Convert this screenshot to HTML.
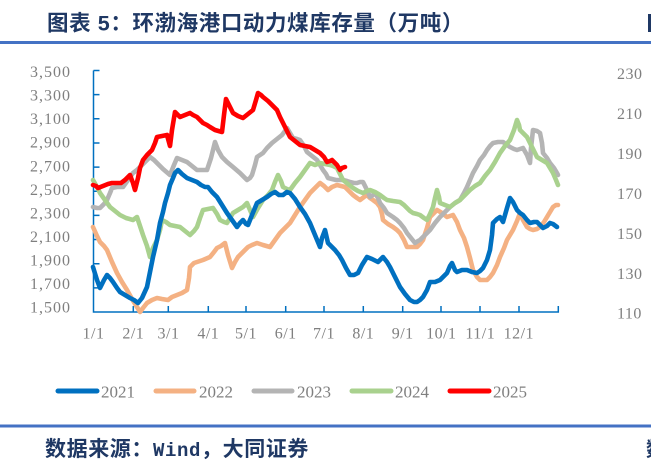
<!DOCTYPE html>
<html><head><meta charset="utf-8"><style>
html,body{margin:0;padding:0;background:#fff;}
svg{display:block;}
.t{font-family:"Liberation Serif","Noto Serif CJK SC",serif;fill:#7f7f7f;}
.h{font-family:"Liberation Sans","Noto Sans CJK SC",sans-serif;font-weight:700;fill:#1f3864;}
.m{font-family:"Liberation Mono",monospace;font-weight:700;}
</style></head><body>
<svg width="651" height="469" viewBox="0 0 651 469" xmlns="http://www.w3.org/2000/svg">
<rect width="651" height="469" fill="#fff"/>
<text class="h" x="47" y="30.5" font-size="21.5" letter-spacing="0.6">图表 5：环渤海港口动力煤库存量（万吨）</text>
<rect x="648" y="14" width="3" height="18" fill="#1f3864"/>
<rect x="0" y="41" width="651" height="3" fill="#4472c4"/>

<!-- left labels -->
<g class="t" font-size="16" text-anchor="end" letter-spacing="1">
<text x="71" y="77">3,500</text>
<text x="71" y="100.6">3,300</text>
<text x="71" y="124.1">3,100</text>
<text x="71" y="147.7">2,900</text>
<text x="71" y="171.3">2,700</text>
<text x="71" y="194.9">2,500</text>
<text x="71" y="218.4">2,300</text>
<text x="71" y="242">2,100</text>
<text x="71" y="265.6">1,900</text>
<text x="71" y="289.1">1,700</text>
<text x="71" y="312.7">1,500</text>
</g>
<!-- right labels -->
<g class="t" font-size="16" letter-spacing="0.5">
<text x="617" y="79">230</text>
<text x="617" y="119">210</text>
<text x="617" y="159">190</text>
<text x="617" y="199">170</text>
<text x="617" y="239">150</text>
<text x="617" y="279">130</text>
<text x="617" y="318.7">110</text>
</g>
<!-- x labels -->
<g class="t" font-size="16" text-anchor="middle" letter-spacing="0.5">
<text x="93.5" y="338.5">1/1</text>
<text x="133.3" y="338.5">2/1</text>
<text x="168.5" y="338.5">3/1</text>
<text x="208.3" y="338.5">4/1</text>
<text x="246" y="338.5">5/1</text>
<text x="285.7" y="338.5">6/1</text>
<text x="324" y="338.5">7/1</text>
<text x="363.3" y="338.5">8/1</text>
<text x="402.7" y="338.5">9/1</text>
<text x="441.3" y="338.5">10/1</text>
<text x="480.3" y="338.5">11/1</text>
<text x="518.8" y="338.5">12/1</text>
</g>

<!-- axes -->
<g stroke="#0070c0" stroke-width="1.5" fill="none">
<path d="M93.5,70.5 V312 H558.3 V306"/>
<path d="M93.5,70.5h6 M93.5,94.65h6 M93.5,118.8h6 M93.5,142.95h6 M93.5,167.1h6 M93.5,191.25h6 M93.5,215.4h6 M93.5,239.55h6 M93.5,263.7h6 M93.5,287.85h6"/>
<path d="M133.3,312v-6 M168.3,312v-6 M208.3,312v-6 M246,312v-6 M285.7,312v-6 M324,312v-6 M363.3,312v-6 M402.7,312v-6 M441,312v-6 M480,312v-6 M519,312v-6"/>
</g>

<g fill="none" stroke-width="4.6" stroke-linejoin="round" stroke-linecap="round">
<polyline stroke="#f4b183" points="93,227 97,236 100,242 104,246 107,250 112,262 117,273 122,282 127,290 132,299 137,307 140,312 143,308 147,303 152,300 157,298 162,299 168,300 172,297 177,295 182,293 187,290 189,278 190,267 194,263 197,262 203,260 210,257 214,252 217,248 221,246 225,243 228,255 232,268 235,262 238,257 243,252 248,247 252,245 257,243 263,245 270,247 275,240 280,233 285,228 290,223 295,215 300,207 305,200 310,193 315,188 320,183 324,186 328,190 332,187 337,185 341,186 345,187 349,191 353,195 357,198 360,200 364,197 367,195 370,198 373,200 377,203 380,207 382,214 383,220 388,224 393,227 397,230 400,233 404,240 407,247 412,247 417,247 420,244 423,240 427,228 430,217 434,213 437,210 442,213 447,217 450,216 453,215 457,222 460,230 464,238 467,247 470,258 473,270 477,277 480,280 484,280 487,280 490,277 493,273 497,265 500,257 504,248 507,240 510,235 513,230 517,221 520,213 523,220 527,227 530,229 533,230 537,229 540,227 544,222 547,217 550,212 553,207 556,205 558,205"/>
<polyline stroke="#b4b4b4" points="93,207 97,208 100,208 104,204 107,200 110,193 112,188 117,187 123,187 128,180 133,173 137,170 140,167 145,162 150,157 154,160 157,163 163,169 170,175 174,165 177,158 182,160 187,162 192,166 197,170 202,170 207,170 211,158 215,142 218,150 222,157 227,162 233,167 240,173 247,180 250,178 252,175 255,165 257,157 260,155 263,153 267,148 272,143 277,139 282,135 285,131 287,128 290,133 293,138 297,139 300,140 304,146 307,152 312,156 317,160 320,165 323,170 326,174 328,178 332,179 336,180 340,180 343,180 347,181 350,182 354,183 357,183 360,182 363,182 367,190 370,197 373,195 375,193 378,198 380,203 384,208 387,213 390,215 393,217 397,220 400,223 404,228 407,233 411,238 415,243 418,241 420,240 425,235 430,230 435,223 440,217 445,212 450,207 455,203 460,200 464,193 467,187 470,180 473,173 477,166 480,160 484,155 487,150 490,146 493,143 498,142 503,142 507,145 510,147 514,149 517,150 520,149 523,148 527,155 530,163 531,148 533,130 537,131 540,133 542,143 543,153 547,158 550,163 554,168 557,173 558,175"/>
<polyline stroke="#a9d18e" points="93,180 97,187 100,193 105,200 110,207 115,211 120,215 126,218 133,220 137,217 140,226 143,235 147,246 150,257 153,248 157,240 160,230 162,220 166,222 170,225 175,226 180,227 185,231 190,235 194,231 197,227 200,218 203,210 208,209 213,208 217,214 220,220 224,222 227,223 230,218 233,213 238,210 243,207 247,203 250,210 253,217 258,208 263,200 268,195 272,190 275,182 278,175 281,181 283,187 287,189 290,190 295,183 300,177 305,170 310,163 315,165 320,163 325,164 330,165 333,166 337,168 340,174 343,180 348,184 353,188 358,191 363,193 367,191 370,190 375,192 380,195 384,198 387,200 393,201 400,202 404,205 407,208 410,211 413,213 417,214 420,215 424,218 427,220 430,214 433,207 435,198 437,190 439,197 440,203 445,205 450,207 455,203 460,200 465,195 470,190 475,186 480,183 485,176 490,170 495,162 500,153 505,146 510,140 514,130 517,120 519,125 520,130 524,134 527,137 532,147 537,157 542,160 547,163 550,168 553,173 556,180 558,185"/>
<polyline stroke="#0070c0" points="93,267 97,280 100,288 104,280 107,275 110,278 113,282 117,288 120,292 125,295 130,298 134,300 138,303 142,298 147,287 150,272 153,257 157,240 160,223 163,212 165,203 168,193 170,185 173,178 175,173 178,170 182,174 187,178 192,180 197,182 201,185 205,187 208,187 212,192 217,197 222,205 227,213 232,220 237,227 240,223 243,220 246,224 248,225 252,215 257,203 262,200 267,197 271,194 275,192 279,195 283,195 287,192 290,193 295,199 300,207 305,214 310,223 315,235 320,247 322,238 325,230 328,243 331,246 335,250 339,255 342,260 346,268 350,275 354,275 358,273 362,265 367,257 372,259 378,262 383,257 387,262 390,267 395,277 400,287 405,294 410,300 414,302 417,302 420,300 423,297 427,290 430,282 435,282 440,280 444,276 447,273 450,266 452,263 455,270 457,272 462,270 467,270 472,272 477,273 480,271 483,268 487,260 490,250 492,235 493,223 497,219 500,217 503,222 507,208 510,198 513,202 517,210 520,213 523,215 527,220 530,223 534,222 537,222 540,225 543,228 547,226 550,223 553,224 557,227"/>
<polyline stroke="#ff0000" points="93,185 96,186 98,188 103,186 108,184 112,183 117,183 121,183 125,180 128,177 130,175 133,183 135,190 138,178 140,168 143,160 147,155 150,152 152,150 155,143 157,137 162,136 167,135 170,146 172,130 175,112 178,115 180,117 185,115 190,113 193,115 197,117 200,120 203,123 207,125 210,127 215,130 222,132 224,115 226,99 229,105 233,113 238,116 243,118 248,114 253,110 256,100 258,93 261,95 263,97 268,101 272,105 275,108 277,110 280,117 283,123 287,131 290,137 295,141 300,145 305,146 310,147 315,150 320,153 324,157 327,162 330,161 332,160 335,163 337,165 340,170 342,168 345,167"/>
</g>

<!-- legend -->
<g stroke-width="5" stroke-linecap="round">
<line x1="58" y1="391" x2="97" y2="391" stroke="#0070c0"/>
<line x1="156" y1="391" x2="194" y2="391" stroke="#f4b183"/>
<line x1="254" y1="391" x2="292" y2="391" stroke="#b4b4b4"/>
<line x1="352" y1="391" x2="391" y2="391" stroke="#a9d18e"/>
<line x1="450" y1="391" x2="489" y2="391" stroke="#ff0000"/>
</g>
<g class="t" font-size="17">
<text x="101" y="397.5">2021</text>
<text x="199" y="397.5">2022</text>
<text x="297" y="397.5">2023</text>
<text x="395" y="397.5">2024</text>
<text x="493" y="397.5">2025</text>
</g>

<rect x="0" y="424.5" width="651" height="3" fill="#4472c4"/>
<text class="h" x="45" y="456" font-size="21" letter-spacing="0.6">数据来源：<tspan class="m" font-size="19">Wind</tspan>，大同证券</text>
<text class="h" x="646" y="456" font-size="20">数</text>
</svg>
</body></html>
